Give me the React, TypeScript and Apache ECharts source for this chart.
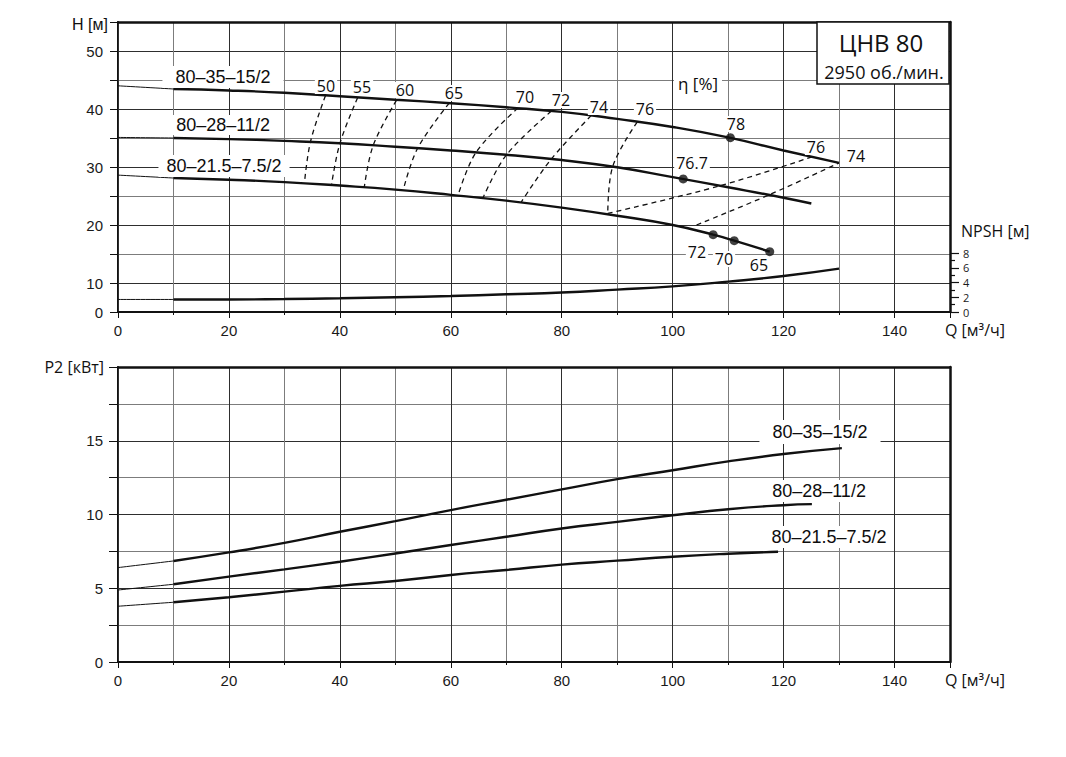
import React, { useEffect, useRef } from "react";
import * as echarts from "echarts";

// ---------- data (Q in m³/h) ----------
const qTickLabels = [0, 20, 40, 60, 80, 100, 120, 140];

// H(Q) curves, m
const head_80_35: number[][] = [[0, 44.0], [10, 43.45], [20, 43.2], [30, 42.8], [40, 42.2], [50, 41.6], [60, 41.0], [70, 40.3], [80, 39.5], [90, 38.3], [100, 36.9], [110, 35.1], [120, 32.85], [130, 30.7]];
const head_80_28: number[][] = [[0, 35.1], [10, 35.0], [20, 34.8], [30, 34.5], [40, 34.1], [50, 33.5], [60, 32.85], [70, 32.1], [80, 31.2], [90, 29.95], [100, 28.25], [110, 26.5], [120, 24.7], [125, 23.7]];
const head_80_21: number[][] = [[0, 28.6], [10, 28.1], [20, 27.8], [30, 27.4], [40, 26.8], [50, 26.1], [60, 25.2], [70, 24.2], [80, 23.0], [90, 21.6], [100, 20.0], [107.3, 18.33], [111.1, 17.3], [117.5, 15.4]];

// iso-efficiency lines (η, %)
const eff50: number[][] = [[37.4, 42.3], [34.7, 34.35], [33.6, 27.15]];
const eff55: number[][] = [[43.2, 41.95], [40.0, 34.05], [38.5, 26.95]];
const eff60: number[][] = [[50.2, 41.5], [46.0, 33.7], [44.4, 26.5]];
const eff65: number[][] = [[59.7, 41.0], [54.0, 33.2], [51.4, 25.95]];
const eff70: number[][] = [[72.1, 40.15], [64.6, 32.6], [61.3, 25.1]];
const eff72: number[][] = [[78.1, 39.6], [70.0, 32.05], [65.8, 24.65]];
const eff74: number[][] = [[85.3, 38.85], [78.1, 31.35], [72.7, 23.95]];
const eff76: number[][] = [[93.6, 37.75], [89.2, 30.1], [88.3, 22.0]];
const eff76b: number[][] = [[88.3, 22.0], [108.5, 26.75], [125.3, 31.8]];
const eff74b: number[][] = [[104.3, 20.0], [117.4, 25.2], [130, 30.7]];

// marked points
const dots_80_35: number[][] = [[110.4, 35.05]];
const dots_80_28: number[][] = [[101.9, 27.95]];
const dots_80_21: number[][] = [[107.3, 18.33], [111.1, 17.3], [117.5, 15.4]];

// NPSH, m
const npsh: number[][] = [[0, 1.7], [10, 1.7], [20, 1.7], [30, 1.76], [40, 1.86], [50, 2.0], [60, 2.17], [70, 2.4], [80, 2.64], [90, 3.04], [100, 3.48], [110, 4.12], [120, 4.88], [130, 5.88]];

// P2, kW
const p2_80_35: number[][] = [[0, 6.4], [10, 6.85], [20, 7.43], [30, 8.08], [40, 8.83], [50, 9.55], [60, 10.3], [70, 11.0], [80, 11.7], [90, 12.4], [100, 13.0], [110, 13.6], [120, 14.1], [130.5, 14.5]];
const p2_80_28: number[][] = [[0, 4.88], [10, 5.27], [20, 5.79], [30, 6.28], [40, 6.8], [50, 7.36], [60, 7.93], [70, 8.49], [80, 9.05], [90, 9.5], [100, 9.95], [110, 10.36], [120, 10.63], [125.1, 10.7]];
const p2_80_21: number[][] = [[0, 3.78], [10, 4.05], [20, 4.39], [30, 4.77], [40, 5.16], [50, 5.49], [60, 5.9], [70, 6.24], [80, 6.6], [90, 6.87], [100, 7.14], [110, 7.34], [119, 7.47]];

const hLabels = [10, 20, 30, 40, 50];
const npshLabels = [0, 2, 4, 6, 8];
const p2Labels = [0, 5, 10, 15];

// ---------- styles ----------
const INK = "#111111";
const MAJOR = "#2e2e2e";
const MINOR = "#7c7c7c";
const ARIAL = "'Liberation Sans', Arial, sans-serif";
const OPEN = "'Open Sans', 'Noto Sans', sans-serif";

const thinPart = (d: number[][]) => d.filter((p) => p[0] <= 10);
const thickPart = (d: number[][]) => d.filter((p) => p[0] >= 10);

const line = (data: number[][], xi: number, yi: number, width: number) => ({
  type: "line",
  data,
  xAxisIndex: xi,
  yAxisIndex: yi,
  symbol: "none",
  smooth: 0.5,
  silent: true,
  z: 3,
  lineStyle: { color: INK, width, cap: "butt" },
});

const curve = (d: number[][], xi: number, yi: number) => [
  line(thinPart(d), xi, yi, 1),
  line(thickPart(d), xi, yi, 2.4),
];

const iso = (data: number[][]) => ({
  type: "line",
  data,
  xAxisIndex: 0,
  yAxisIndex: 0,
  symbol: "none",
  smooth: 0.35,
  silent: true,
  z: 2,
  lineStyle: { color: INK, width: 1.3, type: [5, 4] },
});

const dots = (data: number[][]) => ({
  type: "scatter",
  data,
  xAxisIndex: 0,
  yAxisIndex: 0,
  symbol: "circle",
  symbolSize: 9,
  silent: true,
  z: 4,
  itemStyle: { color: INK },
});

const label = (text: string, x: number, y: number, font: string, pad: number[] = [0, 2]) => ({
  type: "text",
  x,
  y,
  z: 10,
  silent: true,
  style: {
    text,
    font,
    fill: "#0d0d0d",
    align: "center",
    verticalAlign: "middle",
    backgroundColor: "#fff",
    padding: pad,
  },
});

const plain = (text: string, x: number, y: number, font: string, align = "left") => ({
  type: "text",
  x,
  y,
  z: 10,
  silent: true,
  style: { text, font, fill: "#111", align, verticalAlign: "middle" },
});

const qAxis = (gridIndex: number) => ({
  type: "value",
  gridIndex,
  min: 0,
  max: 150,
  interval: 20,
  z: 1,
  axisLine: { show: true, onZero: false, lineStyle: { color: INK, width: 2 } },
  axisTick: { show: true, length: 6, lineStyle: { color: INK, width: 1 } },
  minorTick: { show: true, splitNumber: 2, length: 3, lineStyle: { color: INK, width: 1 } },
  splitLine: { show: true, showMaxLine: false, lineStyle: { color: MAJOR, width: 1 } },
  minorSplitLine: { show: true, lineStyle: { color: MINOR, width: 1 } },
  axisLabel: {
    fontFamily: ARIAL,
    fontSize: 15,
    color: "#1a1a1a",
    margin: 11,
    formatter: (v: number) => (qTickLabels.indexOf(v) >= 0 ? String(v) : ""),
  },
});

const borderX = (gridIndex: number) => ({
  type: "value",
  gridIndex,
  position: "top",
  min: 0,
  max: 150,
  z: 1,
  axisLine: { show: true, onZero: false, lineStyle: { color: INK, width: 2.5 } },
  axisTick: { show: false },
  axisLabel: { show: false },
  splitLine: { show: false },
});

const borderY = (gridIndex: number, min: number, max: number) => ({
  type: "value",
  gridIndex,
  position: "right",
  min,
  max,
  z: 1,
  axisLine: { show: true, onZero: false, lineStyle: { color: INK, width: 2.5 } },
  axisTick: { show: false },
  axisLabel: { show: false },
  splitLine: { show: false },
});

export default function App() {
  const ref = useRef<HTMLDivElement>(null);

  useEffect(() => {
    if (!ref.current) return;
    const chart = echarts.init(ref.current, undefined, { renderer: "svg" });

    const option: any = {
      animation: false,
      backgroundColor: "#fff",
      grid: [
        { left: 118, top: 22, width: 832, height: 290 },
        { left: 118, top: 253, width: 832, height: 59 },
        { left: 118, top: 367, width: 832, height: 295 },
      ],
      xAxis: [
        qAxis(0),
        borderX(0),
        { type: "value", gridIndex: 1, min: 0, max: 150, show: false },
        qAxis(2),
        borderX(2),
      ],
      yAxis: [
        {
          type: "value",
          gridIndex: 0,
          min: 5,
          max: 55,
          interval: 5,
          axisLine: { show: true, onZero: false, lineStyle: { color: INK, width: 2 } },
          axisTick: { show: true, length: 8, lineStyle: { color: INK, width: 1 } },
          splitLine: { show: true, showMaxLine: false, lineStyle: { color: [MINOR, MAJOR], width: 1 } },
          axisLabel: {
            fontFamily: ARIAL,
            fontSize: 15,
            color: "#1a1a1a",
            margin: 15,
            formatter: (v: number) => (v === 5 ? "0" : hLabels.indexOf(v) >= 0 ? String(v) : ""),
          },
        },
        borderY(0, 5, 55),
        {
          type: "value",
          gridIndex: 1,
          position: "right",
          min: 0,
          max: 8,
          interval: 2,
          axisLine: { show: false, onZero: false },
          axisTick: { show: true, length: 9, lineStyle: { color: INK, width: 1.2 } },
          minorTick: { show: true, splitNumber: 2, length: 5, lineStyle: { color: INK, width: 1.2 } },
          splitLine: { show: false },
          axisLabel: {
            fontFamily: OPEN,
            fontSize: 11,
            color: "#1a1a1a",
            margin: 13,
            formatter: (v: number) => (npshLabels.indexOf(v) >= 0 ? String(v) : ""),
          },
        },
        {
          type: "value",
          gridIndex: 2,
          min: 0,
          max: 20,
          interval: 5,
          axisLine: { show: true, onZero: false, lineStyle: { color: INK, width: 2 } },
          axisTick: { show: true, length: 9, lineStyle: { color: INK, width: 1 } },
          minorTick: { show: true, splitNumber: 2, length: 9, lineStyle: { color: INK, width: 1 } },
          splitLine: { show: true, showMaxLine: false, lineStyle: { color: MAJOR, width: 1 } },
          minorSplitLine: { show: true, lineStyle: { color: MINOR, width: 1 } },
          axisLabel: {
            fontFamily: ARIAL,
            fontSize: 15,
            color: "#1a1a1a",
            margin: 15,
            formatter: (v: number) => (p2Labels.indexOf(v) >= 0 ? String(v) : ""),
          },
        },
        borderY(2, 0, 20),
      ],
      series: [
        ...curve(head_80_35, 0, 0),
        ...curve(head_80_28, 0, 0),
        ...curve(head_80_21, 0, 0),
        iso(eff50),
        iso(eff55),
        iso(eff60),
        iso(eff65),
        iso(eff70),
        iso(eff72),
        iso(eff74),
        iso(eff76),
        iso(eff76b),
        iso(eff74b),
        dots(dots_80_35),
        dots(dots_80_28),
        dots(dots_80_21),
        ...curve(npsh, 2, 2),
        ...curve(p2_80_35, 3, 3),
        ...curve(p2_80_28, 3, 3),
        ...curve(p2_80_21, 3, 3),
      ],
      graphic: [
        // axis names
        plain("H [м]", 72, 24, `16px ${ARIAL}`),
        plain("P2 [кВт]", 104, 367, `16px ${OPEN}`, "right"),
        plain("NPSH [м]", 961, 231, `16px ${OPEN}`),
        plain("Q [м³/ч]", 945, 330, `16px ${OPEN}`),
        plain("Q [м³/ч]", 945, 680, `16px ${OPEN}`),
        label("η [%]", 698, 83, `17px ${OPEN}`, [0, 4]),
        // title box
        {
          type: "rect",
          z: 10,
          silent: true,
          shape: { x: 817, y: 22, width: 132, height: 62 },
          style: { fill: "#fff", stroke: INK, lineWidth: 1.5 },
        },
        plain("ЦНВ 80", 881, 42, `24px ${OPEN}`, "center"),
        plain("2950 об./мин.", 884, 72, `18px ${OPEN}`, "center"),
        // curve names (top)
        label("80–35–15/2", 223, 77, `18px ${ARIAL}`, [2, 13]),
        label("80–28–11/2", 223, 125, `18px ${ARIAL}`, [1, 6]),
        label("80–21.5–7.5/2", 224, 166, `18px ${ARIAL}`, [2, 8]),
        // curve names (bottom)
        label("80–35–15/2", 820, 432, `18px ${ARIAL}`, [3, 13]),
        label("80–28–11/2", 819, 491, `18px ${ARIAL}`, [2, 6]),
        label("80–21.5–7.5/2", 829, 537, `18px ${ARIAL}`, [2, 6]),
        // efficiency labels
        label("50", 326, 86, `16px ${OPEN}`),
        label("55", 362, 87, `16px ${OPEN}`),
        label("60", 405, 90, `16px ${OPEN}`),
        label("65", 454, 93, `16px ${OPEN}`),
        label("70", 525, 97, `16px ${OPEN}`),
        label("72", 561, 100, `16px ${OPEN}`),
        label("74", 599, 107, `16px ${OPEN}`),
        label("76", 645, 109, `16px ${OPEN}`),
        label("78", 736, 124, `16px ${OPEN}`),
        label("76", 816, 147, `16px ${OPEN}`),
        label("74", 856, 156, `16px ${OPEN}`),
        label("76.7", 692, 163, `16px ${OPEN}`),
        label("72", 697, 252, `16px ${OPEN}`),
        label("70", 724, 259, `16px ${OPEN}`),
        label("65", 759, 265, `16px ${OPEN}`),
      ],
    };

    chart.setOption(option);
    return () => chart.dispose();
  }, []);

  return (
    <div
      ref={ref}
      style={{ position: "absolute", left: 0, top: 0, width: 1066, height: 757, background: "#fff" }}
    />
  );
}
